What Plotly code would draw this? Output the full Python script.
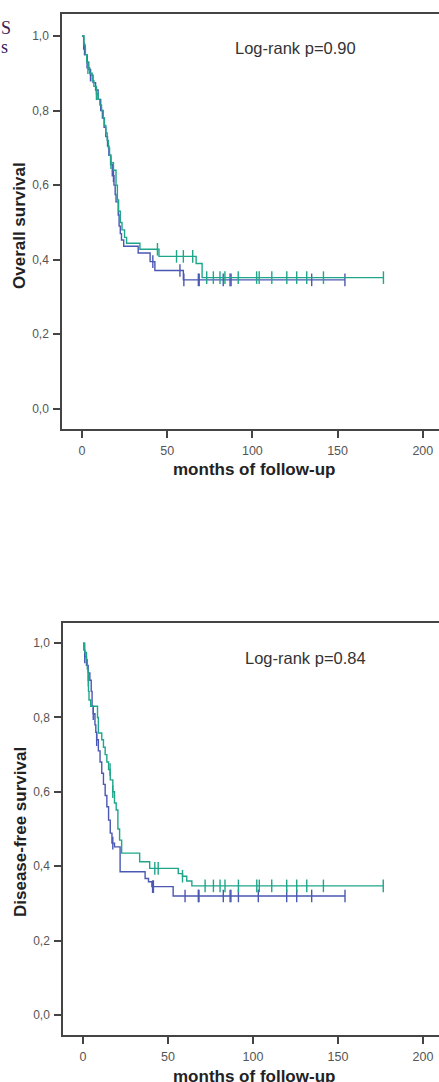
import plotly.graph_objects as go

# ---------------- data ----------------
# Overall survival, group A (blue)
os_blue_t = [0, 1, 2, 3, 4, 5, 6.5, 8, 9.5, 11, 12, 13, 14, 15, 15.8, 16.8, 17.8, 18.8,
             19.5, 20, 21.3, 21.8, 22.5, 23.2, 24.5, 33, 40, 42.8, 59.5]
os_blue_s = [1.0, 0.965, 0.95, 0.93, 0.91, 0.895, 0.875, 0.855, 0.83, 0.80, 0.78, 0.755,
             0.73, 0.705, 0.68, 0.655, 0.625, 0.60, 0.575, 0.555, 0.52, 0.49, 0.47, 0.453,
             0.436, 0.418, 0.395, 0.371, 0.346]
os_blue_cens = [1.5, 3, 5, 18.5, 41.6, 57.5, 59.8, 68.3, 68.8, 82.9, 86.9, 87.5, 134.8, 154.3]

# Overall survival, group B (green)
os_green_t = [0, 1.2, 2, 2.8, 3.5, 4.5, 6, 7, 8.5, 9.5, 10.5, 11.5, 12.5, 13.2, 14, 14.8,
              15.5, 16.2, 17, 18.5, 20, 20.8, 21.5, 22.5, 23.5, 25, 26.2, 34, 45.2, 67, 70.5]
os_green_s = [1.0, 0.975, 0.95, 0.93, 0.915, 0.90, 0.88, 0.865, 0.845, 0.83, 0.815, 0.80,
              0.78, 0.76, 0.74, 0.72, 0.70, 0.68, 0.66, 0.64, 0.60, 0.56, 0.53, 0.50, 0.48,
              0.46, 0.444, 0.428, 0.409, 0.39, 0.352]
os_green_cens = [3.5, 8.5, 17, 44.3, 55.5, 59.5, 65, 73.2, 77.1, 81, 83.9, 91.7, 102.5, 104,
                 111.4, 120.2, 126, 131.9, 141.7, 176.9]

# Disease-free survival, group A (blue)
dfs_blue_t = [0, 0.5, 1, 2, 3, 4, 4.8, 5.3, 6, 7, 7.5, 8, 9, 10, 11, 12, 13, 14, 15, 16, 17,
              18.5, 21.8, 36.5, 38.5, 40.5, 53]
dfs_blue_s = [1.0, 0.981, 0.963, 0.94, 0.92, 0.90, 0.87, 0.83, 0.81, 0.78, 0.76, 0.74, 0.71,
              0.68, 0.65, 0.62, 0.59, 0.56, 0.524, 0.489, 0.462, 0.452, 0.385, 0.367, 0.358,
              0.345, 0.32]
dfs_blue_cens = [1, 6, 8, 17.5, 40.9, 41.4, 60, 67.8, 68.2, 82.5, 86.5, 87, 91.4, 103.1, 119.8,
                 125.7, 134.5, 154.1]

# Disease-free survival, group B (green)
dfs_green_t = [0, 1, 2, 2.5, 3, 3.2, 3.5, 4.5, 8.5, 9, 11, 12, 13, 14, 15, 16, 17.5, 18.5,
               19.5, 20.5, 21.5, 22.7, 33.3, 39.2, 56, 58.5, 61, 64]
dfs_green_s = [1.0, 0.975, 0.955, 0.93, 0.90, 0.87, 0.847, 0.83, 0.80, 0.758, 0.74, 0.72,
               0.70, 0.68, 0.66, 0.632, 0.60, 0.57, 0.551, 0.50, 0.47, 0.435, 0.412, 0.394,
               0.38, 0.373, 0.36, 0.347]
dfs_green_cens = [3.1, 15.9, 17.5, 42.2, 44.2, 58.5, 71.8, 76.7, 80.6, 83.5, 91.4, 102.2,
                  103.7, 111, 119.8, 125.7, 131.6, 141.4, 176.6]

y_tick_vals = [0.0, 0.2, 0.4, 0.6, 0.8, 1.0]
y_tick_text = ["0,0", "0,2", "0,4", "0,6", "0,8", "1,0"]
x_tick_vals = [0, 50, 100, 150, 200]
x_tick_text = ["0", "50", "100", "150", "200"]

title_x = "months of follow-up"
title_y_top = "Overall survival"
title_y_bot = "Disease-free survival"
p_top = "Log-rank p=0.90"
p_bot = "Log-rank p=0.84"

BLUE = "#4a58b3"
GREEN = "#1fa68a"

W, H = 439, 1082


def step_value(ts, ss, t):
    v = ss[0]
    for a, b in zip(ts, ss):
        if a <= t:
            v = b
    return v


fig = go.Figure()


def add_km(ts, ss, cens, color, xa, ya):
    end = max(max(cens), ts[-1])
    fig.add_trace(go.Scatter(x=ts + [end], y=ss + [ss[-1]], mode="lines",
                             line=dict(color=color, width=1.4, shape="hv"),
                             xaxis=xa, yaxis=ya, showlegend=False, hoverinfo="skip"))
    fig.add_trace(go.Scatter(x=cens, y=[step_value(ts, ss, c) for c in cens], mode="markers",
                             marker=dict(symbol="line-ns", size=9,
                                         line=dict(color=color, width=1.4)),
                             xaxis=xa, yaxis=ya, showlegend=False, hoverinfo="skip"))


add_km(os_blue_t, os_blue_s, os_blue_cens, BLUE, "x", "y")
add_km(os_green_t, os_green_s, os_green_cens, GREEN, "x", "y")
add_km(dfs_blue_t, dfs_blue_s, dfs_blue_cens, BLUE, "x2", "y2")
add_km(dfs_green_t, dfs_green_s, dfs_green_cens, GREEN, "x2", "y2")

FONT = "Liberation Sans, Arial, sans-serif"
axcol = "#444444"
common_x = dict(showgrid=False, zeroline=False, showline=True, linecolor=axcol, linewidth=1.5,
                mirror=True, ticks="outside", ticklen=7, tickwidth=1.5, tickcolor=axcol,
                tickvals=x_tick_vals, ticktext=x_tick_text, ticklabelstandoff=2,
                automargin=False,
                tickfont=dict(family=FONT, size=12.5, color="#555555"))
common_y = dict(showgrid=False, zeroline=False, showline=True, linecolor=axcol, linewidth=1.5,
                mirror=False, ticks="outside", ticklen=7, tickwidth=1.5, tickcolor=axcol,
                tickvals=y_tick_vals, ticktext=y_tick_text, ticklabelstandoff=2,
                automargin=False,
                tickfont=dict(family=FONT, size=12, color="#555555"))

fig.update_layout(
    width=W, height=H, margin=dict(l=0, r=0, t=0, b=0, autoexpand=False),
    paper_bgcolor="white", plot_bgcolor="white",
    xaxis=dict(domain=[62 / W, 1], range=[-11.7, 209.5], anchor="y", **common_x),
    yaxis=dict(domain=[1 - 429 / H, 1 - 14 / H], range=[-0.054, 1.059], anchor="x", **common_y),
    xaxis2=dict(domain=[63 / W, 1], range=[-11.8, 209.4], anchor="y2", **common_x),
    yaxis2=dict(domain=[1 - 1035 / H, 1 - 623 / H], range=[-0.054, 1.054], anchor="x2", **common_y),
)

tfont = dict(family=FONT, size=17, color="#222222")
ann = [
    dict(text="<b>%s</b>" % title_x, x=254 / W, y=1 - 470 / H),
    dict(text="<b>%s</b>" % title_x, x=254 / W, y=1 - 1076 / H),
    dict(text="<b>%s</b>" % title_y_top, x=20 / W, y=1 - 226 / H, textangle=-90),
    dict(text="<b>%s</b>" % title_y_bot, x=20 / W, y=1 - 832 / H, textangle=-90),
]
for a in ann:
    fig.add_annotation(xref="paper", yref="paper", showarrow=False, xanchor="center",
                       yanchor="middle", font=tfont, **a)

pfont = dict(family=FONT, size=16.5, color="#333333")
fig.add_annotation(text=p_top, xref="paper", yref="paper", x=295 / W, y=1 - 48 / H,
                   showarrow=False, font=pfont, xanchor="center", yanchor="middle")
fig.add_annotation(text=p_bot, xref="paper", yref="paper", x=305 / W, y=1 - 658 / H,
                   showarrow=False, font=pfont, xanchor="center", yanchor="middle")

# fragments of neighbouring page text at the top-left corner
sfont = dict(family="Liberation Serif, serif", size=18, color="#3d1d55")
fig.add_annotation(text="S", xref="paper", yref="paper", x=0, y=1 - 28 / H,
                   showarrow=False, font=sfont, xanchor="left", yanchor="middle",
                   borderpad=0)
fig.add_annotation(text="s", xref="paper", yref="paper", x=0, y=1 - 47 / H,
                   showarrow=False, font=sfont, xanchor="left", yanchor="middle",
                   borderpad=0)

fig.write_html("out.html", config={"displayModeBar": False},
               post_script="document.body.style.margin='0';"
                           "document.body.style.overflow='hidden';")
